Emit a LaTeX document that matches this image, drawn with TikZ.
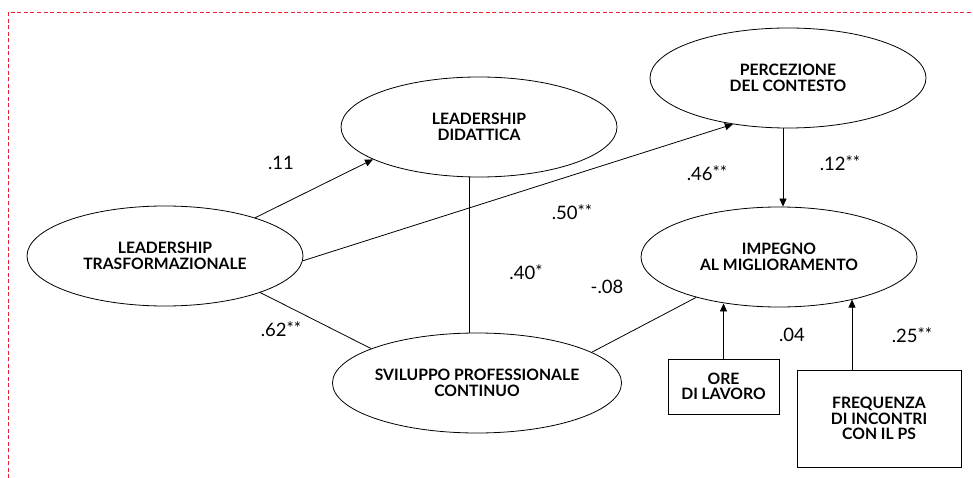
\documentclass[tikz,border=0pt]{standalone}
\usepackage{fontspec}
\setmainfont{Lato}
\usetikzlibrary{arrows.meta,shapes.geometric,calc}
\definecolor{borderred}{RGB}{232,32,48}
\newcommand{\stars}[1]{\raisebox{1.5pt}{\fontsize{17}{17}\selectfont #1}}
\begin{document}
\begin{tikzpicture}[x=1pt,y=-1pt,
  lat/.style={ellipse,draw,line width=0.8pt,minimum width=276pt,minimum height=100pt,inner sep=0pt,
    align=center,font=\fontsize{15.7}{15.5}\selectfont\bfseries},
  obs/.style={rectangle,draw,line width=0.8pt,inner sep=0pt,align=center,
    font=\fontsize{15.7}{15.5}\selectfont\bfseries},
  conn/.style={line width=0.8pt},
  arr/.style={line width=0.8pt,-{Triangle[length=8pt,width=7pt]}},
  coef/.style={font=\fontsize{18.5}{18.5}\selectfont,inner sep=0pt}]
\useasboundingbox (0,0) rectangle (973,478);
% border
\draw[borderred,line width=1pt,dash pattern=on 4pt off 2.5pt] (8,478) -- (8,13) -- (973,13);
% nodes
\node[lat] (LT) at (165,256) {LEADERSHIP\\TRASFORMAZIONALE};
\node[lat] (LD) at (479,127) {LEADERSHIP\\DIDATTICA};
\node[lat] (PC) at (788,78) {PERCEZIONE\\DEL CONTESTO};
\node[lat] (IM) at (779,257) {IMPEGNO\\AL MIGLIORAMENTO};
\node[lat] (SPC) at (477,383) {SVILUPPO PROFESSIONALE\\CONTINUO};
\node[obs,minimum width=111pt,minimum height=55pt] (ORE) at (723.5,386.5) {ORE\\DI LAVORO};
\node[obs,minimum width=164pt,minimum height=97pt] (FR) at (879,418.5) {FREQUENZA\\DI INCONTRI\\CON IL PS};
% connectors
\draw[arr] (LT.23) -- (LD.197);
\draw[arr] (LT.358) -- (PC.220);
\draw[conn] (LT.339) -- (SPC.162);
\draw[conn] ([xshift=-10pt]LD.south) -- ([xshift=-8pt]SPC.north);
\draw[arr] ([xshift=-5pt]PC.south) -- ([xshift=-5pt]PC.south |- IM.north);
\draw[conn] (SPC.15) -- (IM.206);
\draw[arr] (ORE.north) -- (ORE.north |- IM.221);
\draw[arr] ([xshift=-27pt]FR.north) -- ([xshift=-27pt]FR.north |- IM.330);
% coefficients
\node[coef] (c11) at (281,163) {.11};
\node[coef] (c46) at (707,173) {.46\stars{**}};
\node[coef] (c12) at (840,163) {.12\stars{**}};
\node[coef] (c50) at (572,212) {.50\stars{**}};
\node[coef] (c40) at (526,272) {.40\stars{*}};
\node[coef] (c08) at (607,287) {-.08};
\node[coef] (c62) at (281,329) {.62\stars{**}};
\node[coef] (c04) at (792,335) {.04};
\node[coef] (c25) at (912,335) {.25\stars{**}};
\end{tikzpicture}
\end{document}
